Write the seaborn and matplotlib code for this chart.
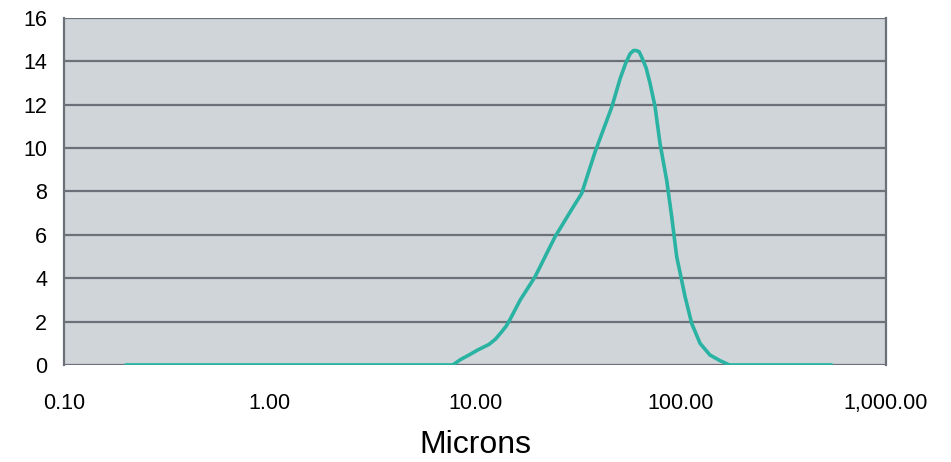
import numpy as np
import pandas as pd
import matplotlib.pyplot as plt
import matplotlib.ticker as mticker
import seaborn as sns

# particle size distribution
microns = [0.2, 1.0, 5.0, 7.8, 8.5, 9.3, 10.3, 11.7, 12.6, 13.4, 14.2, 14.8,
           16.6, 19.6, 24.5, 30.1, 33.0, 38.4, 46.3, 50.8, 54.0, 56.8, 59.0,
           60.7, 62.8, 64.7, 68.0, 71.1, 75.2, 79.5, 85.7, 90.6, 95.8, 101.3,
           105.2, 113.3, 124.4, 139.0, 155.6, 173.0, 300.0, 543.0]
volume = [0.0, 0.0, 0.0, 0.0, 0.25, 0.45, 0.69, 0.95, 1.2, 1.5, 1.8, 2.1,
          3.0, 4.07, 5.91, 7.3, 7.9, 9.83, 11.9, 13.2, 13.9, 14.35, 14.5,
          14.5, 14.45, 14.2, 13.7, 12.98, 11.9, 10.2, 8.5, 6.83, 4.99, 3.9,
          3.15, 1.92, 1.0, 0.46, 0.2, 0.0, 0.0, 0.0]
xticks = [0.1, 1, 10, 100, 1000]
yticks = [0, 2, 4, 6, 8, 10, 12, 14, 16]

df = pd.DataFrame({"Microns": microns, "Volume": volume})

sns.set_style("white")
plt.rcParams["font.family"] = ["Liberation Sans", "DejaVu Sans"]

fig = plt.figure(figsize=(9.51, 4.62), dpi=100)
ax = fig.add_axes([0.0673, 0.21, 0.8644, 0.751])
ax.set_facecolor("#d0d5d9")

sns.lineplot(data=df, x="Microns", y="Volume", ax=ax, color="#2ab3a3",
             linewidth=2.6, solid_joinstyle="round")

ax.set_xscale("log")
ax.set_xlim(0.1, 1000)
ax.set_ylim(0, 16)
ax.set_xticks(xticks)
ax.xaxis.set_major_formatter(mticker.FuncFormatter(lambda v, p: "{:,.2f}".format(v)))
ax.xaxis.set_minor_locator(mticker.NullLocator())
ax.set_yticks(yticks)

grid_c = "#6b7079"
ax.grid(axis="y", color=grid_c, linewidth=1.6)
ax.set_axisbelow(True)
for s in ["left", "right"]:
    ax.spines[s].set_color(grid_c)
    ax.spines[s].set_linewidth(1.6)
for s in ["top", "bottom"]:
    ax.spines[s].set_visible(False)

ax.tick_params(axis="both", colors=grid_c, labelcolor="black", labelsize=15.5,
               length=8, width=1.6, direction="out")
ax.tick_params(axis="x", pad=12)
ax.tick_params(axis="y", pad=4)
ax.set_ylabel("")
ax.set_xlabel("Microns", fontsize=23, labelpad=12, color="black")

fig.savefig("out.png", dpi=100)
